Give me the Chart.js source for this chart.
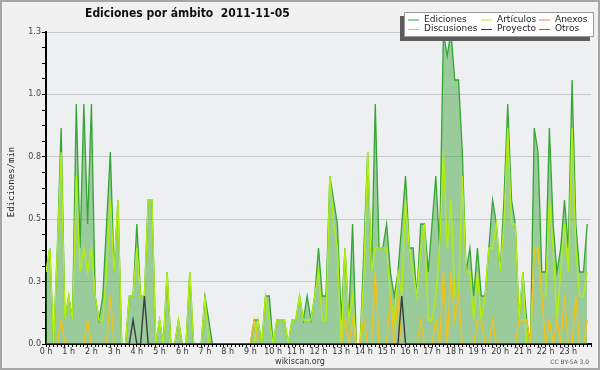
<!DOCTYPE html>
<html>
<head>
<meta charset="utf-8">
<script src="https://cdn.jsdelivr.net/npm/chart.js@4.4.1/dist/chart.umd.min.js"></script>
<style>
  html, body { margin: 0; padding: 0; background: #f0f0f0; }
  #wrap { width: 600px; height: 370px; position: relative; }
</style>
</head>
<body>
<div id="wrap"><canvas id="chart" width="600" height="370"></canvas></div>
<script>
// Ediciones por minuto, tramos de 10 min (6 por hora, 144 en el día)
const hourLabels = ['0 h', '1 h', '2 h', '3 h', '4 h', '5 h', '6 h', '7 h', '8 h', '9 h', '10 h', '11 h',
  '12 h', '13 h', '14 h', '15 h', '16 h', '17 h', '18 h', '19 h', '20 h', '21 h', '22 h', '23 h'];
const yTickLabels = ['0.0', '0.3', '0.5', '0.8', '1.0', '1.3'];
const yMax = 1.3;

const ediciones = [
  0.3, 0.4, 0, 0.4, 0.9, 0.1, 0.2, 0.1, 1.0, 0.4, 1.0, 0.5,
  1.0, 0.2, 0.1, 0.2, 0.5, 0.8, 0.3, 0.6, 0, 0, 0.2, 0.2,
  0.5, 0.2, 0.2, 0.6, 0.6, 0, 0.1, 0, 0.3, 0, 0, 0.1,
  0, 0, 0.3, 0, 0, 0, 0.2, 0.1, 0, 0, 0, 0,
  0, 0, 0, 0, 0, 0, 0, 0.1, 0.1, 0, 0.2, 0.2,
  0, 0.1, 0.1, 0.1, 0, 0.1, 0.1, 0.2, 0.1, 0.2, 0.1, 0.2,
  0.4, 0.2, 0.2, 0.7, 0.6, 0.5, 0.1, 0.4, 0.1, 0.5, 0, 0,
  0.4, 0.8, 0.3, 1.0, 0.4, 0.4, 0.5, 0.3, 0.2, 0.3, 0.5, 0.7,
  0.4, 0.4, 0.2, 0.5, 0.5, 0.3, 0.5, 0.7, 0.4, 1.3, 1.2, 1.3,
  1.1, 1.1, 0.8, 0.3, 0.4, 0.2, 0.4, 0.2, 0.2, 0.4, 0.6, 0.5,
  0.3, 0.6, 1.0, 0.6, 0.5, 0.1, 0.3, 0.1, 0, 0.9, 0.8, 0.3,
  0.3, 0.9, 0.5, 0.3, 0.4, 0.6, 0.4, 1.1, 0.5, 0.3, 0.3, 0.5
];
const articulos = [
  0.3, 0.4, 0, 0.4, 0.8, 0.1, 0.2, 0.1, 0.7, 0.3, 0.4, 0.3,
  0.4, 0.2, 0.1, 0.1, 0.3, 0.6, 0.3, 0.6, 0, 0, 0.2, 0.2,
  0.4, 0.2, 0.2, 0.6, 0.6, 0, 0.1, 0, 0.3, 0, 0, 0.1,
  0, 0, 0.3, 0, 0, 0, 0.2, 0, 0, 0, 0, 0,
  0, 0, 0, 0, 0, 0, 0, 0, 0.1, 0, 0.2, 0.1,
  0, 0.1, 0.1, 0.1, 0, 0.1, 0.1, 0.2, 0.1, 0.1, 0.1, 0.2,
  0.3, 0.1, 0.1, 0.7, 0.5, 0.4, 0, 0.4, 0.1, 0.2, 0, 0,
  0.3, 0.8, 0.3, 0.4, 0.4, 0.4, 0.4, 0.2, 0.1, 0.3, 0.2, 0.6,
  0.4, 0.3, 0.2, 0.4, 0.5, 0.1, 0.1, 0.2, 0.4, 0.8, 0.4, 0.6,
  0.2, 0.2, 0.7, 0.3, 0.3, 0.1, 0.3, 0.1, 0.2, 0.4, 0.4, 0.5,
  0.3, 0.5, 0.9, 0.5, 0.5, 0.1, 0.3, 0, 0, 0.4, 0.4, 0.2,
  0.2, 0.6, 0.4, 0.1, 0.3, 0.5, 0.3, 0.9, 0.4, 0.2, 0.2, 0.3
];
const discusiones = [
  0, 0, 0, 0, 0.1, 0, 0, 0, 0, 0, 0, 0.1,
  0, 0, 0, 0, 0, 0.2, 0, 0, 0, 0, 0, 0,
  0, 0, 0, 0, 0, 0, 0, 0, 0, 0, 0, 0,
  0, 0, 0, 0, 0, 0, 0, 0, 0, 0, 0, 0,
  0, 0, 0, 0, 0, 0, 0, 0.1, 0, 0, 0, 0,
  0, 0, 0, 0, 0, 0, 0, 0, 0, 0, 0, 0,
  0, 0, 0, 0, 0, 0, 0, 0.1, 0, 0.1, 0, 0,
  0.1, 0, 0, 0.3, 0, 0, 0, 0.2, 0, 0.2, 0, 0,
  0, 0, 0, 0.1, 0, 0, 0, 0.1, 0, 0.3, 0, 0.3,
  0.1, 0.2, 0, 0, 0, 0, 0.1, 0.1, 0, 0, 0.1, 0,
  0, 0, 0, 0, 0, 0.1, 0.1, 0.1, 0, 0.4, 0.4, 0.2,
  0, 0.1, 0, 0.1, 0, 0.2, 0, 0, 0.2, 0, 0, 0.1
];
const anexos = [
  0, 0, 0, 0, 0, 0, 0, 0, 0, 0, 0, 0, 0, 0, 0, 0, 0, 0, 0, 0, 0, 0, 0, 0,
  0, 0, 0, 0, 0, 0, 0, 0, 0, 0, 0, 0, 0, 0, 0, 0, 0, 0, 0, 0, 0, 0, 0, 0,
  0, 0, 0, 0, 0, 0, 0, 0, 0, 0, 0, 0, 0, 0, 0, 0, 0, 0, 0, 0, 0, 0, 0, 0,
  0, 0, 0, 0, 0, 0, 0, 0, 0, 0, 0, 0, 0, 0, 0, 0, 0, 0, 0, 0, 0, 0, 0, 0,
  0, 0, 0, 0, 0, 0, 0, 0, 0, 0, 0, 0, 0, 0, 0, 0, 0, 0, 0, 0, 0, 0, 0, 0,
  0, 0, 0, 0, 0, 0, 0, 0, 0, 0, 0, 0, 0, 0, 0, 0, 0, 0, 0, 0, 0, 0, 0, 0
];
const proyecto = [
  0, 0, 0, 0, 0, 0, 0, 0, 0, 0, 0, 0, 0, 0, 0, 0, 0, 0, 0, 0, 0, 0, 0, 0.1,
  0, 0, 0.2, 0, 0, 0, 0, 0, 0, 0, 0, 0, 0, 0, 0, 0, 0, 0, 0, 0, 0, 0, 0, 0,
  0, 0, 0, 0, 0, 0, 0, 0, 0, 0, 0, 0, 0, 0, 0, 0, 0, 0, 0, 0, 0, 0, 0, 0,
  0, 0, 0, 0, 0, 0, 0, 0, 0, 0, 0, 0, 0, 0, 0, 0, 0, 0, 0, 0, 0, 0, 0.2, 0,
  0, 0, 0, 0, 0, 0, 0, 0, 0, 0, 0, 0, 0, 0, 0, 0, 0, 0, 0, 0, 0, 0, 0, 0,
  0, 0, 0, 0, 0, 0, 0, 0, 0, 0, 0, 0, 0, 0, 0, 0, 0, 0, 0, 0, 0, 0, 0, 0
];
const otros = [
  0, 0, 0, 0, 0, 0, 0, 0, 0, 0, 0, 0, 0, 0, 0, 0, 0, 0, 0, 0, 0, 0, 0, 0,
  0, 0, 0, 0, 0, 0, 0, 0, 0, 0, 0, 0, 0, 0, 0, 0, 0, 0, 0, 0, 0, 0, 0, 0,
  0, 0, 0, 0, 0, 0, 0, 0, 0, 0, 0, 0, 0, 0, 0, 0, 0, 0, 0, 0, 0, 0, 0, 0,
  0, 0, 0, 0, 0, 0, 0, 0, 0, 0, 0, 0, 0, 0, 0, 0, 0, 0, 0, 0, 0, 0, 0, 0,
  0, 0, 0, 0, 0, 0, 0, 0, 0, 0, 0, 0, 0, 0, 0, 0, 0, 0, 0, 0, 0, 0, 0, 0,
  0, 0, 0, 0, 0, 0, 0, 0, 0, 0, 0, 0, 0, 0, 0, 0, 0, 0, 0, 0, 0, 0, 0, 0
];

const COLORS = {
  ediciones: '#35a535', edicionesFill: 'rgba(50,160,50,0.45)',
  articulos: '#b2ee10', anexos: '#f07a4a', discusiones: '#f2c21a',
  proyecto: '#3c3c3c', otros: '#9a40e8'
};
const FONT = "'DejaVu Sans', sans-serif";

// índice del tramo -> hora decimal
const pts = arr => arr.map((v, i) => ({ x: i / 6, y: v }));

function serie(label, data, color, order, extra = {}) {
  return { label, data: pts(data), borderColor: color, borderWidth: 1.4, pointRadius: 0,
    tension: 0, fill: false, order, ...extra };
}

const legendRows = [
  [['Ediciones', COLORS.ediciones], ['Artículos', COLORS.articulos], ['Anexos', COLORS.anexos]],
  [['Discusiones', COLORS.discusiones], ['Proyecto', COLORS.proyecto], ['Otros', COLORS.otros]]
];

const decor = {
  id: 'decor',
  beforeDraw(chart) {
    const { ctx, chartArea: a, width, height } = chart;
    ctx.save();
    ctx.fillStyle = '#f0f0f0';
    ctx.fillRect(0, 0, width, height);
    ctx.fillStyle = '#eeeff1';
    ctx.fillRect(a.left, a.top, a.right - a.left, a.bottom - a.top);
    ctx.strokeStyle = '#a6a6a6'; ctx.lineWidth = 2;
    ctx.strokeRect(1, 1, width - 2, height - 2);
    ctx.restore();
  },
  afterDraw(chart) {
    const { ctx } = chart;
    ctx.save();
    // título
    ctx.fillStyle = '#111';
    ctx.font = "bold 12px 'DejaVu Sans Condensed', 'DejaVu Sans', sans-serif";
    ctx.textBaseline = 'middle'; ctx.textAlign = 'left';
    ctx.fillText('Ediciones por ámbito  2011-11-05', 85, 14);
    // eje y
    ctx.save();
    ctx.translate(12, 182); ctx.rotate(-Math.PI / 2);
    ctx.font = "9px 'DejaVu Sans Mono', monospace"; ctx.textAlign = 'center';
    ctx.fillStyle = '#222';
    ctx.fillText('Ediciones/min', 0, 0);
    ctx.restore();
    // leyenda
    ctx.fillStyle = '#5c5c5c';
    ctx.fillRect(400, 16, 190, 25);
    ctx.fillStyle = '#fff';
    ctx.fillRect(404, 12, 190, 25);
    ctx.strokeStyle = '#9a9a9a'; ctx.lineWidth = 1;
    ctx.strokeRect(404.5, 12.5, 189, 24);
    const cols = [408, 481, 539];
    ctx.font = '9px ' + FONT; ctx.textAlign = 'left';
    legendRows.forEach((row, r) => {
      const y = 19.5 + r * 9.5;
      row.forEach(([txt, col], c) => {
        ctx.strokeStyle = col; ctx.lineWidth = 1;
        ctx.beginPath(); ctx.moveTo(cols[c], y + 0.5); ctx.lineTo(cols[c] + 11, y + 0.5); ctx.stroke();
        ctx.fillStyle = '#222';
        ctx.fillText(txt, cols[c] + 16, y);
      });
    });
    // pie
    ctx.font = '8px ' + FONT; ctx.textAlign = 'center'; ctx.fillStyle = '#333';
    ctx.fillText('wikiscan.org', 300, 362);
    ctx.font = '6px ' + FONT; ctx.textAlign = 'right'; ctx.fillStyle = '#555';
    ctx.fillText('CC BY-SA 3.0', 589, 362);
    ctx.restore();
  }
};

new Chart(document.getElementById('chart'), {
  type: 'line',
  data: {
    datasets: [
      serie('Proyecto', proyecto, COLORS.proyecto, 1),
      serie('Otros', otros, COLORS.otros, 2),
      serie('Anexos', anexos, COLORS.anexos, 3),
      serie('Discusiones', discusiones, COLORS.discusiones, 4),
      serie('Artículos', articulos, COLORS.articulos, 5),
      serie('Ediciones', ediciones, COLORS.ediciones, 6,
        { fill: 'origin', backgroundColor: COLORS.edicionesFill, borderWidth: 1.3 })
    ]
  },
  options: {
    responsive: false, animation: false,
    layout: { padding: { top: 32, right: 9, bottom: 14, left: 0 } },
    plugins: { legend: { display: false }, title: { display: false }, tooltip: { enabled: false } },
    scales: {
      x: {
        type: 'linear', min: 0, max: 24, z: 1,
        afterBuildTicks: s => { s.ticks = Array.from({ length: 145 }, (_, k) => ({ value: k / 6 })); },
        afterFit: s => { s.height = 12; },
        ticks: {
          autoSkip: false, maxRotation: 0, padding: 0, color: '#333', font: { family: FONT, size: 8 },
          callback: (v, k) => (k % 6 === 0 && k / 6 < 24) ? hourLabels[k / 6] : ''
        },
        grid: { drawOnChartArea: false, tickLength: 3, tickColor: '#000' },
        border: { color: '#000', width: 2 }
      },
      y: {
        min: 0, max: yMax, z: 1,
        afterBuildTicks: s => { s.ticks = Array.from({ length: 21 }, (_, k) => ({ value: k * 65 / 1000 })); },
        afterFit: s => { s.width = 46; },
        ticks: {
          padding: 1, color: '#444', font: { family: FONT, size: 8 },
          callback: (v, k) => k % 4 === 0 ? yTickLabels[k / 4] : ''
        },
        grid: {
          color: c => (c.index % 4 === 0 ? '#c9c9c9' : 'rgba(0,0,0,0)'),
          tickColor: '#000', tickLength: 4, lineWidth: 1
        },
        border: { color: '#000', width: 2 }
      }
    }
  },
  plugins: [decor]
});
</script>
</body>
</html>
